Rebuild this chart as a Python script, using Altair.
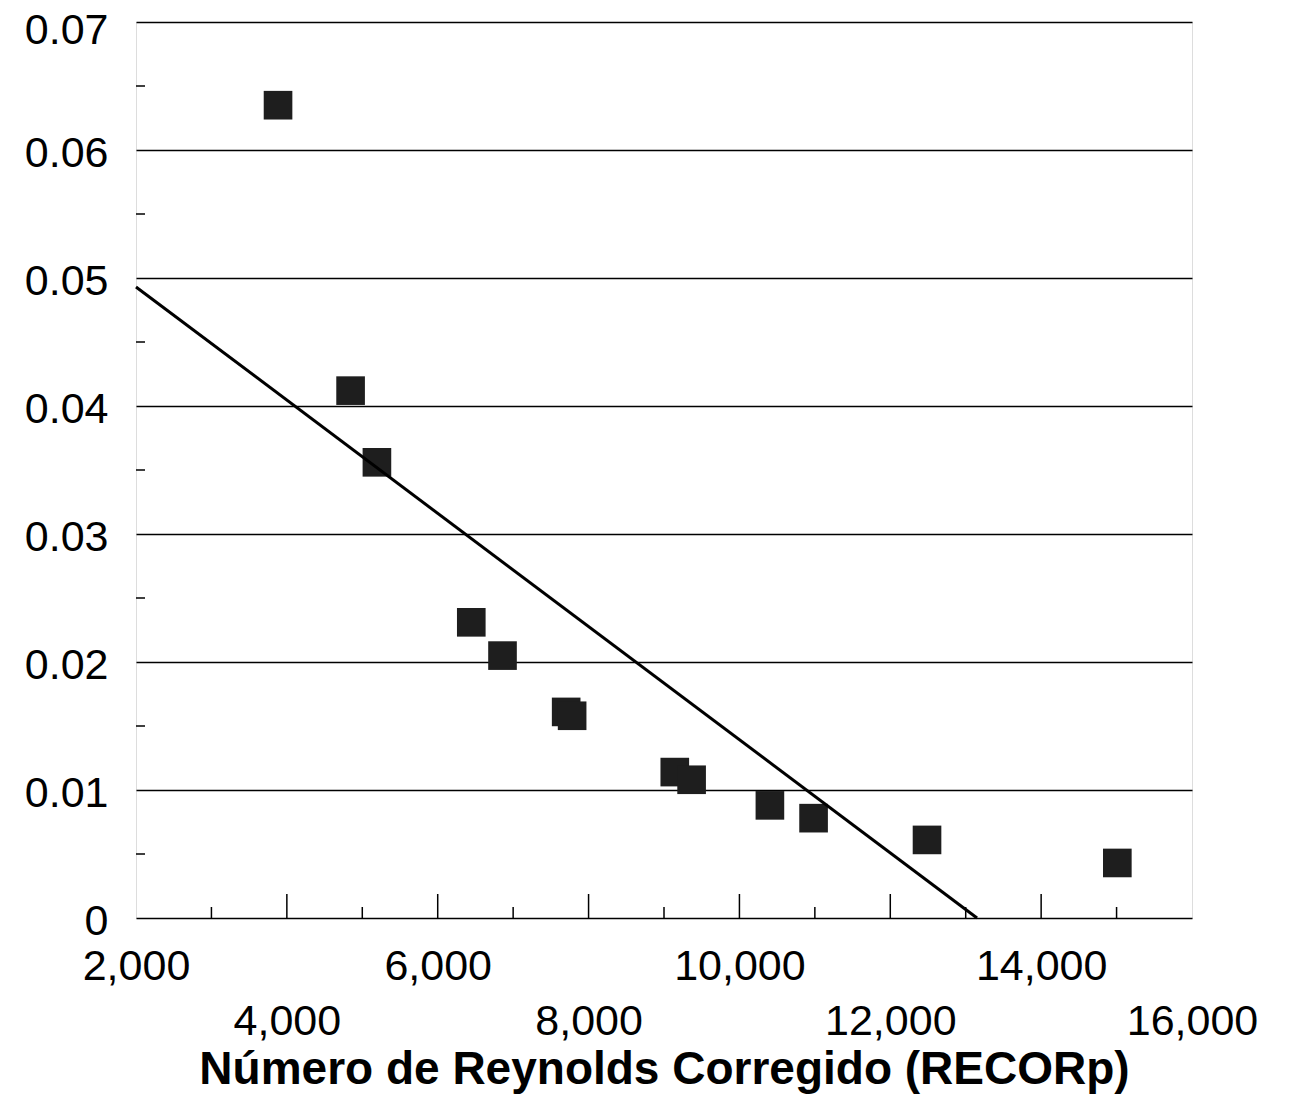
import altair as alt
import pandas as pd

# Data
reynolds = [3883, 4845, 5194, 6445, 6859, 7703, 7782, 9143, 9366, 10404, 10983, 12487, 15010]
valor = [0.0635, 0.0412, 0.0356, 0.0231, 0.0205, 0.0161, 0.0158, 0.0114, 0.0108, 0.0088, 0.0078, 0.0061, 0.0043]

fit_x = [2000, 13150]
fit_y = [0.0493, 0.0]

x_ticks = [2000, 4000, 6000, 8000, 10000, 12000, 14000, 16000]
x_minor = [3000, 5000, 7000, 9000, 11000, 13000, 15000]
x_major_inner = [4000, 6000, 8000, 10000, 12000, 14000]
y_ticks = [0, 0.01, 0.02, 0.03, 0.04, 0.05, 0.06, 0.07]
y_minor = [0.005, 0.015, 0.025, 0.035, 0.045, 0.055, 0.065]

W, H = 1056, 896
FONT = "Liberation Sans"

pts = pd.DataFrame({"x": reynolds, "y": valor})
fit = pd.DataFrame({"x": fit_x, "y": fit_y})
xmin = pd.DataFrame({"x": x_minor})
xmaj = pd.DataFrame({"x": x_major_inner})
ymin = pd.DataFrame({"y": y_minor})

xscale = alt.Scale(domain=[2000, 16000], nice=False, zero=False)
yscale = alt.Scale(domain=[0, 0.07], nice=False, zero=False)

xaxis = alt.Axis(
    values=x_ticks, format=",d", title="Número de Reynolds Corregido (RECORp)",
    grid=False, ticks=False, tickSize=0, domain=False,
    labelFont=FONT, labelFontSize=43, labelColor="black",
    labelPadding={"condition": {"test": "datum.value % 4000 == 0", "value": 82}, "value": 27},
    labelFlush=False, labelOverlap=False,
    titleFont=FONT, titleFontSize=46, titleFontWeight="bold", titleColor="black",
    titlePadding=4,
)
yaxis = alt.Axis(
    values=y_ticks, labelExpr="datum.value == 0 ? '0' : format(datum.value, '.2f')",
    title=None, grid=True, gridColor="black", gridWidth=1.5, gridOpacity=1,
    ticks=False, tickSize=0, domain=False,
    labelFont=FONT, labelFontSize=43, labelColor="black", labelPadding=28,
    labelOffset={"condition": {"test": "datum.value >= 0.07", "value": 8}, "value": 3},
    labelFlush=False, labelOverlap=False,
)

X = alt.X("x:Q", scale=xscale, axis=xaxis)
Y = alt.Y("y:Q", scale=yscale, axis=yaxis)

points = alt.Chart(pts).mark_square(size=820, color="#1e1e1e", opacity=1).encode(x=X, y=Y)
line = alt.Chart(fit).mark_line(color="black", strokeWidth=3).encode(x=X, y=Y)
xminor_r = alt.Chart(xmin).mark_rule(color="black", strokeWidth=1.5).encode(
    x=X, y=alt.value(H), y2=alt.value(H - 11))
xmajor_r = alt.Chart(xmaj).mark_rule(color="black", strokeWidth=1.5).encode(
    x=X, y=alt.value(H), y2=alt.value(H - 24))
yminor_r = alt.Chart(ymin).mark_rule(color="black", strokeWidth=1.5).encode(
    y=Y, x=alt.value(0), x2=alt.value(9))

chart = alt.layer(points, line, xminor_r, xmajor_r, yminor_r).properties(
    width=W, height=H,
    autosize=alt.AutoSizeParams(type="none"),
    padding={"left": 136, "top": 22, "right": 104, "bottom": 183},
).configure_view(stroke="black", strokeWidth=2.2).configure(background="white")

chart.save("out.html", embed_options={"renderer": "svg", "actions": False})
